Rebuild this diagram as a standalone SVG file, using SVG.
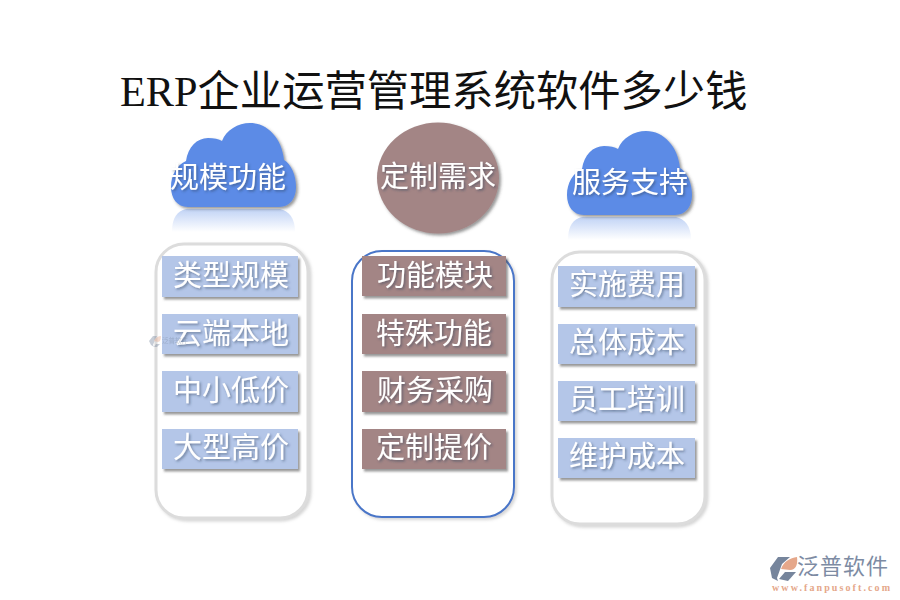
<svg xmlns="http://www.w3.org/2000/svg" width="900" height="600" viewBox="0 0 900 600">
<style>
text{font-family:"Liberation Serif","Noto Sans CJK SC",serif}
.t{font-size:29px;fill:#fff;text-anchor:middle;dominant-baseline:central;filter:url(#ts)}
.panel{fill:#fff;stroke:#dcdcdc;stroke-width:3;filter:url(#ps)}
.blue{fill:#b4c6e8;filter:url(#bs)}
.brown{fill:#a38585;filter:url(#bs)}
</style>
<defs>
<filter id="ts" x="-10%" y="-20%" width="120%" height="150%"><feDropShadow dx="1.500" dy="1.500" stdDeviation="1" flood-color="#2b3a55" flood-opacity=".5"/></filter>
<filter id="bs" x="-5%" y="-10%" width="112%" height="125%"><feDropShadow dx="2" dy="2.500" stdDeviation="1.200" flood-color="#555" flood-opacity=".6"/></filter>
<filter id="ps" x="-5%" y="-5%" width="112%" height="110%"><feDropShadow dx="2" dy="2" stdDeviation="1.500" flood-color="#999" flood-opacity=".4"/></filter>
<filter id="cs" x="-10%" y="-10%" width="125%" height="125%"><feDropShadow dx="2" dy="2" stdDeviation="1.500" flood-color="#444" flood-opacity=".55"/></filter>
<linearGradient id="rf" x1="0" y1="0" x2="0" y2="1"><stop offset="0" stop-color="#5b8be6" stop-opacity=".38"/><stop offset="1" stop-color="#5b8be6" stop-opacity="0"/></linearGradient>
<path id="cloud" d="M188 207C177 207 171 198 171 187C171 175 177 165 186 161C188 147 197 138 208 138C214 138 219 139 222 141C226 130 238 123 250 123C268 123 282 139 284 160C291 164 296 175 296 187C296 198 290 207 279 207Z"/>
<path id="reflect" d="M186 209C177 211 172 218 172 232H295C295 218 289 211 280 209Z"/>
</defs>
<rect width="900" height="600" fill="#fff"/>
<text id="title" x="120" y="106" font-size="42.300" fill="#111">ERP企业运营管理系统软件多少钱</text>
<g id="connectors"/>
<g id="node-scale">
<use href="#reflect" fill="url(#rf)"/>
<use href="#cloud" fill="#5b8be6" filter="url(#cs)"/>
<text class="t" x="228" y="178">规模功能</text>
</g>
<g id="node-custom">
<ellipse cx="438" cy="178" rx="61" ry="55.500" fill="#a38585" filter="url(#cs)"/>
<text class="t" x="438" y="177">定制需求</text>
</g>
<g id="node-service">
<g transform="translate(396 8)">
<use href="#reflect" fill="url(#rf)"/>
<use href="#cloud" fill="#5b8be6" filter="url(#cs)"/>
</g>
<text class="t" x="630" y="183">服务支持</text>
</g>
<g id="panel-left">
<rect class="panel" x="156" y="244" width="152" height="274" rx="28"/>
<g id="l1"><rect class="blue" x="162" y="256" width="136" height="41"/><text class="t" x="231" y="276">类型规模</text></g>
<g id="l2"><rect class="blue" x="162" y="314" width="136" height="40"/><text class="t" x="231" y="334">云端本地</text></g>
<g id="watermark" opacity=".4"><path d="M149 341L153 336H157L155 340L153 345L154 347L151 345Z" fill="#76859c"/><path d="M154 341C155 338 158 336 161 336C161 339 160 342 158 342Z" fill="#e5a78a"/><path d="M154 347L156 344H160L157 347Z" fill="#76859c"/><text x="162" y="343" font-size="6.500" fill="#76859c">泛普软件</text></g>
<g id="l3"><rect class="blue" x="162" y="371" width="136" height="41"/><text class="t" x="231" y="391">中小低价</text></g>
<g id="l4"><rect class="blue" x="162" y="429" width="136" height="40"/><text class="t" x="231" y="448">大型高价</text></g>
</g>
<g id="panel-mid">
<rect class="panel" style="stroke:#4a76c8;stroke-width:2" x="352" y="251" width="162" height="266" rx="30"/>
<g id="m1"><rect class="brown" x="362" y="256" width="144" height="40"/><text class="t" x="435" y="276">功能模块</text></g>
<g id="m2"><rect class="brown" x="362" y="314" width="144" height="40"/><text class="t" x="434" y="334">特殊功能</text></g>
<g id="m3"><rect class="brown" x="362" y="371" width="144" height="41"/><text class="t" x="435" y="391">财务采购</text></g>
<g id="m4"><rect class="brown" x="362" y="429" width="144" height="40"/><text class="t" x="434" y="448">定制提价</text></g>
</g>
<g id="panel-right">
<rect class="panel" x="552" y="252" width="153" height="272" rx="28"/>
<g id="r1"><rect class="blue" x="558" y="266" width="137" height="41"/><text class="t" x="627" y="285">实施费用</text></g>
<g id="r2"><rect class="blue" x="558" y="324" width="137" height="40"/><text class="t" x="627" y="343">总体成本</text></g>
<g id="r3"><rect class="blue" x="558" y="381" width="137" height="40"/><text class="t" x="627" y="400">员工培训</text></g>
<g id="r4"><rect class="blue" x="558" y="438" width="137" height="40"/><text class="t" x="627" y="457">维护成本</text></g>
</g>
<g id="logo">
<path d="M770 568L778 557H790L782 564L777 578L778 581L772 578Z" fill="#76859c"/>
<path d="M781 569C784 561 790 558 797 557C798 564 796 570 790 570C787 570 784 569 781 569Z" fill="#e5a78a"/>
<path d="M779 579L785 572L796 572L788 581Z" fill="#76859c"/>
<text x="797" y="574" font-size="22" fill="#7d8ba3" style="font-family:'Noto Sans CJK SC',sans-serif" textLength="91">泛普软件</text>
<text x="772" y="591" font-size="10" fill="#e5a78a" textLength="118" font-weight="bold">www.fanpusoft.com</text>
</g>
</svg>
